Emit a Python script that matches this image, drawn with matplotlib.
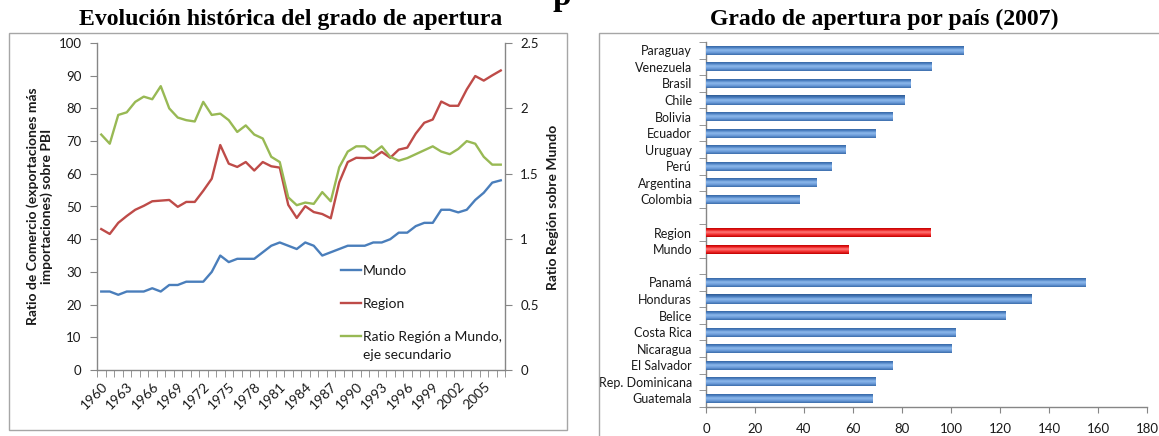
import numpy as np
import matplotlib
matplotlib.use("Agg")
import matplotlib.pyplot as plt
from matplotlib.patches import Rectangle
from matplotlib.colors import LinearSegmentedColormap

# ---------------- data ----------------
years = list(range(1960, 2008))
mundo = [24, 24, 23, 24, 24, 24, 25, 24, 26, 26,
         27, 27, 27, 30, 35, 33, 34, 34, 34, 36,
         38, 39, 38, 37, 39, 38, 35, 36, 37, 38,
         38, 38, 39, 39, 40, 42, 42, 44, 45, 45,
         49, 49, 48.2, 49, 52, 54.2, 57.3, 58]
region = [43.1, 41.6, 45.0, 47.1, 49.0, 50.2, 51.6, 51.8, 52.0, 49.9,
          51.4, 51.4, 54.8, 58.5, 68.8, 63.1, 62.1, 63.6, 61.0, 63.6,
          62.3, 61.9, 50.5, 46.5, 50.1, 48.3, 47.7, 46.4, 57.4, 63.6,
          64.9, 64.8, 64.9, 66.7, 64.9, 67.4, 68.0, 72.3, 75.6, 76.6,
          82.1, 80.8, 80.8, 85.8, 89.9, 88.5, 90.1, 91.6]
ratio = [1.80, 1.73, 1.95, 1.97, 2.05, 2.09, 2.07, 2.17, 2.00, 1.93,
         1.91, 1.90, 2.05, 1.95, 1.96, 1.91, 1.82, 1.87, 1.80, 1.77,
         1.63, 1.59, 1.32, 1.26, 1.28, 1.27, 1.36, 1.29, 1.55, 1.67,
         1.71, 1.71, 1.66, 1.71, 1.63, 1.60, 1.62, 1.65, 1.68, 1.71,
         1.67, 1.65, 1.69, 1.75, 1.73, 1.63, 1.57, 1.57]

countries = ['Paraguay', 'Venezuela', 'Brasil', 'Chile', 'Bolivia', 'Ecuador',
             'Uruguay', 'Perú', 'Argentina', 'Colombia', '', 'Region', 'Mundo', '',
             'Panamá', 'Honduras', 'Belice', 'Costa Rica', 'Nicaragua',
             'El Salvador', 'Rep. Dominicana', 'Guatemala']
apertura = [105.3, 92.1, 83.3, 81.1, 76.2, 69.3, 57.0, 51.3, 45.2, 38.2, np.nan,
            91.7, 58.2, np.nan, 154.9, 133.0, 122.2, 101.9, 100.2, 76.2, 69.2, 68.1]
highlight = ['Region', 'Mundo']

left_title = 'Evolución histórica del grado de apertura'
right_title = 'Grado de apertura por país (2007)'
ylabel_left = 'Ratio de Comercio (exportaciones más\nimportaciones) sobre PBI'
ylabel_right = 'Ratio Región sobre Mundo'
legend_labels = ['Mundo', 'Region', 'Ratio Región a Mundo,']
legend_extra = 'eje secundario'

# ---------------- style ----------------
W, H = 1159, 436
SANS = ['Lato', 'DejaVu Sans']
SERIF = ['Liberation Serif', 'DejaVu Serif']
plt.rcParams['font.family'] = SANS
AX_COL = '#868686'
TXT = '#1a1a1a'
C_BLUE = '#4A7EBB'
C_RED = '#BE4B48'
C_GREEN = '#98B954'

fig = plt.figure(figsize=(W / 100, H / 100), dpi=100)
fig.patch.set_facecolor('white')

def fx(px):
    return px / W

def fy(py):
    return 1 - py / H

# panel borders
fig.add_artist(Rectangle((fx(9), fy(430)), fx(567) - fx(9), fy(33) - fy(430),
                         transform=fig.transFigure, fill=False, ec='#A6A6A6', lw=1))
fig.add_artist(Rectangle((fx(599), fy(445)), fx(1170) - fx(599), fy(33) - fy(445),
                         transform=fig.transFigure, fill=False, ec='#A6A6A6', lw=1))

# titles
fig.text(fx(291), fy(19), left_title, ha='center', va='center',
         fontsize=17.1, fontweight='bold', family=SERIF, color='black')
fig.text(fx(884), fy(19), right_title, ha='center', va='center',
         fontsize=17.1, fontweight='bold', family=SERIF, color='black')
# descender of a larger title that lies above the picture
fig.text(fx(562), fy(4.5), 'p', ha='center', va='baseline',
         fontsize=24, fontweight='bold', family=SERIF, color='black')

# ---------------- left chart ----------------
ax = fig.add_axes([fx(97), fy(370), fx(505) - fx(97), fy(43) - fy(370)])
x = np.arange(len(years))
l1, = ax.plot(x, mundo, color=C_BLUE, lw=1.7, solid_joinstyle='round')
l2, = ax.plot(x, region, color=C_RED, lw=1.7, solid_joinstyle='round')
ax.set_xlim(-0.5, len(years) - 0.5)
ax.set_ylim(0, 100)
ax.set_yticks(np.arange(0, 101, 10))
ax2 = ax.twinx()
l3, = ax2.plot(x, ratio, color=C_GREEN, lw=1.7, solid_joinstyle='round')
ax2.set_ylim(0, 2.5)
ax2.set_yticks([0, 0.5, 1, 1.5, 2, 2.5])
ax2.set_yticklabels(['0', '0.5', '1', '1.5', '2', '2.5'])
ax2.set_xlim(-0.5, len(years) - 0.5)

for a in (ax, ax2):
    for s in a.spines.values():
        s.set_color(AX_COL)
        s.set_linewidth(1)
    a.spines['top'].set_visible(False)
ax.spines['right'].set_visible(False)
ax2.spines['left'].set_visible(False)
ax2.spines['bottom'].set_visible(False)

ax.tick_params(axis='y', direction='out', length=5, color=AX_COL, labelsize=9.5,
               labelcolor=TXT, pad=6)
ax2.tick_params(axis='y', direction='out', length=5, color=AX_COL, labelsize=9.5,
                labelcolor=TXT, pad=6)
ax.set_xticks(np.arange(-0.5, len(years), 1.0), minor=True)
ax.tick_params(axis='x', which='minor', direction='out', length=5, color=AX_COL)
lab_idx = list(range(0, len(years), 3))
ax.set_xticks(lab_idx)
ax.set_xticklabels([str(years[i]) for i in lab_idx], rotation=45, ha='right',
                   va='top', rotation_mode='anchor', fontsize=10, color=TXT)
ax.tick_params(axis='x', which='major', length=0, pad=7)

fig.text(fx(40), fy(206), ylabel_left, rotation=90, ha='center', va='center',
         ma='center', fontsize=10, fontweight='bold', color=TXT, linespacing=1.1)
fig.text(fx(553), fy(207), ylabel_right, rotation=90, ha='center', va='center',
         fontsize=10, fontweight='bold', color=TXT)

leg = ax.legend([l1, l2, l3], legend_labels, loc='upper left',
                bbox_to_anchor=(0.597, 0.32), frameon=False, fontsize=10,
                handlelength=1.5, handletextpad=0.1, labelspacing=1.5,
                borderpad=0, borderaxespad=0)
for t in leg.get_texts():
    t.set_color(TXT)

# second line of the third legend entry, placed under its first line
fig.canvas.draw()
bb = leg.get_texts()[2].get_window_extent()
fig.text(bb.x0 / W, ((bb.y0 + bb.y1) / 2 - 18) / H, legend_extra,
         ha='left', va='center', fontsize=10, color=TXT)

# ---------------- right chart ----------------
bx = fig.add_axes([fx(706), fy(406.7), fx(1147) - fx(706), fy(42) - fy(406.7)])
ypos = np.arange(len(countries))
vals = np.array(apertura, dtype=float)
bar_h = 0.55
cols = ['#E00000' if c in highlight else C_BLUE for c in countries]
bars = bx.barh(ypos, np.nan_to_num(vals), height=bar_h, color=cols, edgecolor='none')

cm_blue = LinearSegmentedColormap.from_list('b', ['#2D5A92', '#4A7EC0', '#8EB9EC', '#6C9DDA', '#3B6CAB'])
cm_red = LinearSegmentedColormap.from_list('r', ['#A00000', '#E81010', '#FF7A7A', '#F43030', '#C00000'])
grad = np.linspace(0, 1, 64).reshape(-1, 1)
for b, c, v in zip(bars, countries, vals):
    if np.isnan(v):
        continue
    x0, y0 = b.get_x(), b.get_y()
    w, h = b.get_width(), b.get_height()
    cmap = cm_red if c in highlight else cm_blue
    im = bx.imshow(grad, extent=[x0, x0 + w, y0 + h, y0], aspect='auto', cmap=cmap,
                   origin='upper', zorder=3, interpolation='bilinear')
    im.set_clip_path(b)

bx.set_xlim(0, 180)
bx.set_ylim(len(countries) - 0.5, -0.5)
bx.set_xticks(np.arange(0, 181, 20))
bx.set_yticks(ypos)
bx.set_yticklabels(countries, fontsize=9, color=TXT)
bx.set_yticks(np.arange(-0.5, len(countries), 1.0), minor=True)
bx.tick_params(axis='y', which='major', length=0, pad=10)
bx.tick_params(axis='y', which='minor', direction='out', length=5, color=AX_COL)
bx.tick_params(axis='x', direction='out', length=4, color=AX_COL, labelsize=9.5,
               labelcolor=TXT, pad=8)
for s in ('top', 'right'):
    bx.spines[s].set_visible(False)
for s in ('left', 'bottom'):
    bx.spines[s].set_color(AX_COL)
    bx.spines[s].set_linewidth(1)

fig.savefig('out.png', dpi=100)
